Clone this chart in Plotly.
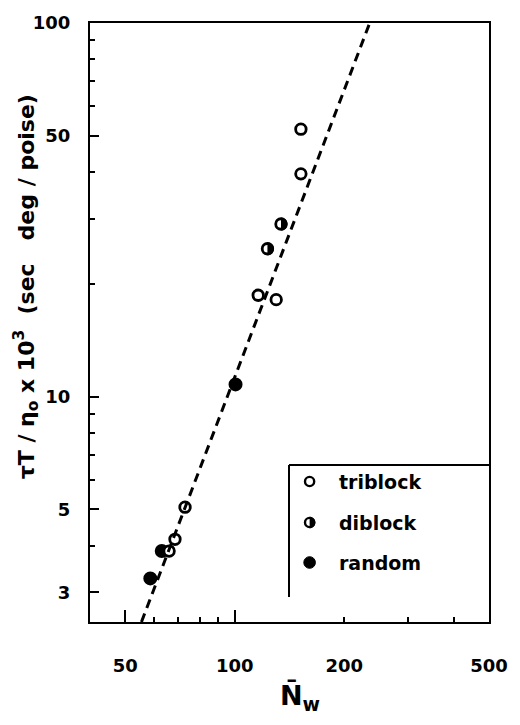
import math
import plotly.graph_objects as go

# Relaxation data: tau*T/eta0 x 10^3 (sec deg/poise) vs weight-average N
triblock_x = [152, 152, 116, 130, 73, 68.5, 66]
triblock_y = [52, 39.5, 18.7, 18.2, 5.07, 4.16, 3.87]
diblock_x = [134, 123]
diblock_y = [29, 24.9]
random_x = [100.5, 63, 58.6]
random_y = [10.8, 3.87, 3.27]

# Fitted power-law line (end points)
fit_x = [55.4, 235]
fit_y = [2.5, 100]

x_range = [40, 500]
y_range = [2.5, 100]
x_tick_vals = [50, 100, 200, 500]
x_tick_text = ["50", "100", "200", "500"]
x_long_ticks = [50, 100]
x_minor_ticks = [60, 70, 80, 90, 300, 400]
y_tick_vals = [3, 5, 10, 50, 100]
y_tick_text = ["3", "5", "10", "50", "100"]
y_minor_ticks = [4, 6, 7, 8, 9, 20, 30, 40, 60, 70, 80, 90]

legend_labels = ["triblock", "diblock", "random"]

FONT = "DejaVu Sans"
W, H = 520, 725
ML, MR, MT, MB = 90, 23, 23, 103
PW, PH = W - ML - MR, H - MT - MB
NB = "\u00a0"


def px(xp):
    return (xp - ML) / PW


def py(yp):
    return (H - MB - yp) / PH


fig = go.Figure()

# dashed fit line (on the overlay axis that carries the long ticks)
fig.add_trace(go.Scatter(
    x=fit_x, y=fit_y, mode="lines", xaxis="x2", yaxis="y",
    line=dict(color="black", width=3, dash="9px,6px"),
    showlegend=False, hoverinfo="skip"))

fig.add_trace(go.Scatter(
    x=random_x, y=random_y, mode="markers", name="random",
    marker=dict(symbol="circle", size=12, color="black",
                line=dict(color="black", width=2)),
    showlegend=False))

fig.add_trace(go.Scatter(
    x=triblock_x, y=triblock_y, mode="markers", name="triblock",
    marker=dict(symbol="circle", size=10.5, color="white",
                line=dict(color="black", width=2.8)),
    showlegend=False))

fig.add_trace(go.Scatter(
    x=diblock_x, y=diblock_y, mode="markers", name="diblock",
    marker=dict(symbol="circle", size=10.5, color="white",
                line=dict(color="black", width=2.8)),
    showlegend=False))

# right half of the diblock symbols is filled
HALF = "M0,-6.6 C3.6,-6.6 6.6,-3.6 6.6,0 C6.6,3.6 3.6,6.6 0,6.6 Z"
shapes = []
for xv, yv in zip(diblock_x, diblock_y):
    shapes.append(dict(
        type="path", xref="x", yref="y", xsizemode="pixel", ysizemode="pixel",
        xanchor=xv, yanchor=yv, path=HALF,
        fillcolor="black", line=dict(width=0), layer="above"))

# legend frame (top and left edges only)
lx0 = px(293)
ly_top = py(465)
shapes.append(dict(type="line", xref="paper", yref="paper",
                   x0=lx0, x1=1, y0=ly_top, y1=ly_top,
                   line=dict(color="black", width=2)))
shapes.append(dict(type="line", xref="paper", yref="paper",
                   x0=lx0, x1=lx0, y0=ly_top, y1=py(597),
                   line=dict(color="black", width=2)))

# legend symbols
sym_x = px(314)
rows = [py(481.5), py(522.5), py(562.5)]
R = 4.6
circ = dict(type="circle", xref="paper", yref="paper",
            xsizemode="pixel", ysizemode="pixel",
            x0=-R, x1=R, y0=-R, y1=R)
shapes.append(dict(circ, xanchor=sym_x, yanchor=rows[0], fillcolor="white",
                   line=dict(color="black", width=2.4)))
shapes.append(dict(circ, xanchor=sym_x, yanchor=rows[1], fillcolor="white",
                   line=dict(color="black", width=2.4)))
shapes.append(dict(type="path", xref="paper", yref="paper",
                   xsizemode="pixel", ysizemode="pixel",
                   xanchor=sym_x, yanchor=rows[1],
                   path="M0,-5.8 C3.2,-5.8 5.8,-3.2 5.8,0 C5.8,3.2 3.2,5.8 0,5.8 Z",
                   fillcolor="black", line=dict(width=0)))
shapes.append(dict(type="circle", xref="paper", yref="paper",
                   xsizemode="pixel", ysizemode="pixel",
                   x0=-5.8, x1=5.8, y0=-5.8, y1=5.8,
                   xanchor=sym_x, yanchor=rows[2], fillcolor="black",
                   line=dict(color="black", width=1)))

annotations = []
for label, yy in zip(legend_labels, rows):
    annotations.append(dict(
        text=label, xref="paper", yref="paper", x=px(342), y=yy,
        xanchor="left", yanchor="middle", showarrow=False,
        font=dict(family=FONT, size=19, color="black", weight="bold")))

# axis titles
ytitle = ("τT" + NB + "/" + NB + "η<sub>o</sub>" + NB + "x" + NB
          + "10<sup>3</sup>" + NB * 2 + "(sec" + NB * 3 + "deg" + NB
          + "/" + NB + "poise)")
annotations.append(dict(
    text=ytitle,
    xref="paper", yref="paper", x=px(25), y=py(287),
    xanchor="center", yanchor="middle", textangle=-90, showarrow=False,
    font=dict(family=FONT, size=22, color="black", weight="bold")))
annotations.append(dict(
    text="N\u0304<sub>w</sub>",
    xref="paper", yref="paper", x=px(304), y=py(697),
    xanchor="center", yanchor="middle", showarrow=False,
    font=dict(family=FONT, size=27, color="black", weight="bold")))

tickfont = dict(family=FONT, size=18, color="black", weight="bold")

fig.update_layout(
    width=W, height=H,
    margin=dict(l=ML, r=MR, t=MT, b=MB),
    paper_bgcolor="white", plot_bgcolor="white",
    showlegend=False,
    xaxis=dict(
        type="log", range=[math.log10(x_range[0]), math.log10(x_range[1])],
        tickvals=x_tick_vals, ticktext=x_tick_text, tickfont=tickfont,
        ticks="inside", ticklen=5, tickwidth=2, tickcolor="black",
        ticklabelstandoff=26,
        minor=dict(tickvals=x_minor_ticks, ticks="inside", ticklen=5,
                   tickwidth=2, tickcolor="black", showgrid=False),
        showline=True, linecolor="black", linewidth=2, mirror=True,
        showgrid=False, zeroline=False),
    xaxis2=dict(
        type="log", range=[math.log10(x_range[0]), math.log10(x_range[1])],
        overlaying="x", anchor="y", side="bottom",
        tickvals=x_long_ticks, showticklabels=False,
        ticks="inside", ticklen=12, tickwidth=2, tickcolor="black",
        showline=False, showgrid=False, zeroline=False),
    yaxis=dict(
        type="log", range=[math.log10(y_range[0]), math.log10(y_range[1])],
        tickvals=y_tick_vals, ticktext=y_tick_text, tickfont=tickfont,
        ticks="inside", ticklen=9, tickwidth=2, tickcolor="black",
        ticklabelstandoff=14,
        minor=dict(tickvals=y_minor_ticks, ticks="inside", ticklen=5,
                   tickwidth=2, tickcolor="black", showgrid=False),
        showline=True, linecolor="black", linewidth=2, mirror=True,
        showgrid=False, zeroline=False),
    shapes=shapes,
    annotations=annotations,
)

fig.write_html("out.html")
